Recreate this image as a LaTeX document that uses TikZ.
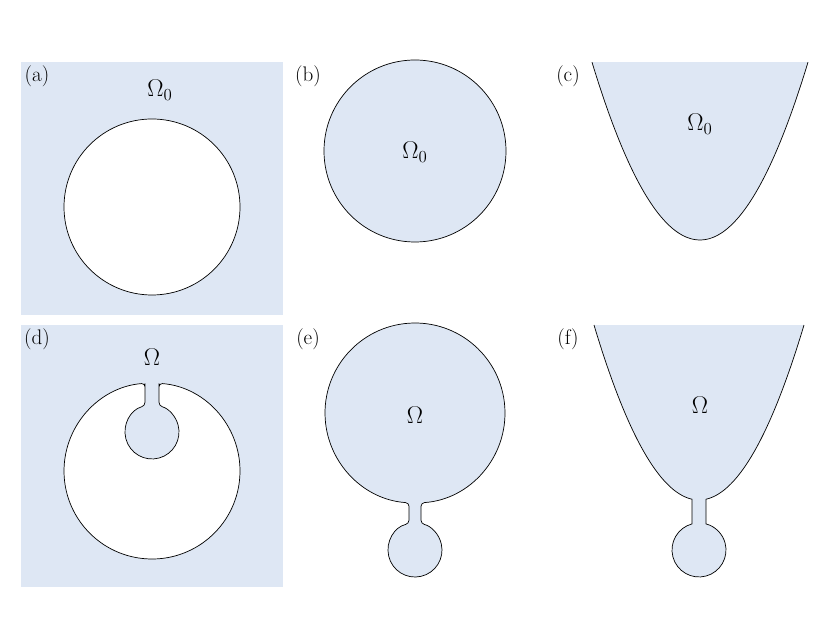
\documentclass[tikz,border=0pt]{standalone}
\definecolor{dom}{HTML}{DEE7F4}
\begin{document}
\begin{tikzpicture}[x=0.03cm,y=0.03cm,
  region/.style={fill=dom,draw=black,line width=0.6pt},
  hole/.style={fill=white,draw=black,line width=0.6pt},
  lab/.style={font=\fontsize{18}{21}\selectfont,inner sep=0pt},
  om/.style={font=\fontsize{22}{25}\selectfont,inner sep=0pt}]
\useasboundingbox (0,0) rectangle (830,642);
% (a)
\fill[dom] (21,327) rectangle (283,580);
\draw[hole] (152,435) circle (88);
\node[lab] (la) at (37,566) {(a)};
\node[om] (oa) at (160,552) {$\Omega_0$};
% (b)
\draw[region] (415,491) circle (91);
\node[lab] (lb) at (308,566) {(b)};
\node[om] (ob) at (415,490) {$\Omega_0$};
% (c)
\filldraw[region] plot[domain=592:808,samples=80,smooth] (\x,{402+0.01525*(\x-700)^2});
\node[lab] (lc) at (568,566) {(c)};
\node[om] (oc) at (700,518) {$\Omega_0$};
% (d)
\fill[dom] (21,55) rectangle (283,317);
\draw[hole,rounded corners=3] (159,258.7) arc[start angle=85.44,end angle=-265.44,radius=88]
  -- (145,255) -- (145,236.1) arc[start angle=105.03,end angle=434.97,radius=27]
  -- (159,255) -- cycle;
\node[lab] (ld) at (37,303) {(d)};
\node[om] (od) at (152,285) {$\Omega$};
% (e)
\draw[region,rounded corners=3] (421,139.2) arc[start angle=-86.18,end angle=266.18,radius=90]
  -- (409,118.3) arc[start angle=102.84,end angle=437.16,radius=27] -- cycle;
\node[lab] (le) at (308,303) {(e)};
\node[om] (oe) at (415,227) {$\Omega$};
% (f)
\filldraw[region] plot[domain=594:692,samples=60,smooth] (\x,{142+0.01587*(\x-699)^2})
  -- (692,118.1) arc[start angle=105.03,end angle=434.97,radius=27]
  -- (706,142.8)
  -- plot[domain=706:804,samples=60,smooth] (\x,{142+0.01587*(\x-699)^2});
\node[lab] (lf) at (568,303) {(f)};
\node[om] (of) at (700,237) {$\Omega$};
\end{tikzpicture}
\end{document}
